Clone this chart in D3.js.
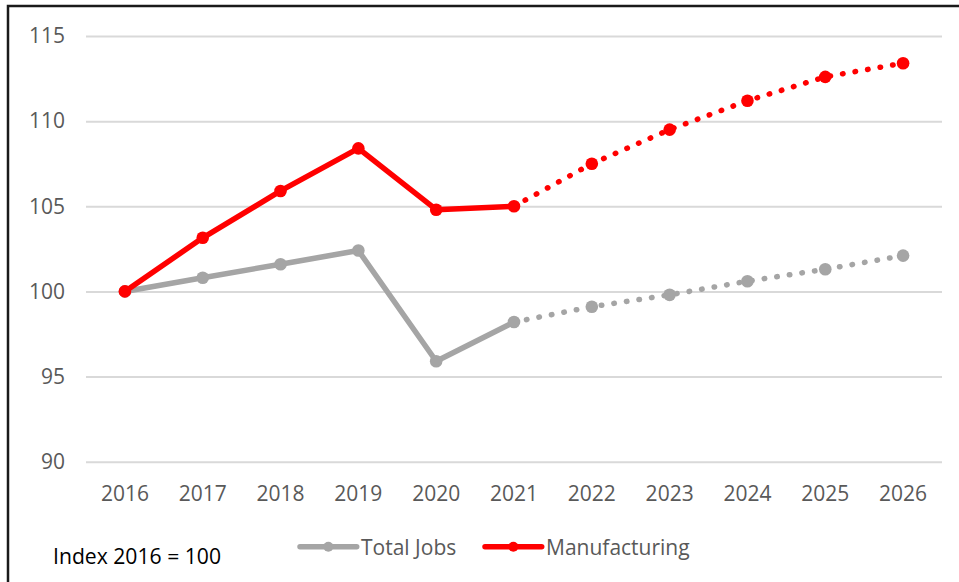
<!DOCTYPE html>
<html>
<head>
<meta charset="utf-8">
<script src="https://cdn.jsdelivr.net/npm/d3@7"></script>
<style>
  html, body { margin: 0; padding: 0; background: #fff; }
  svg { display: block; }
  .axis text { font-family: "Open Sans", sans-serif; fill: #595959; }
</style>
</head>
<body>
<svg id="chart" width="959" height="582"></svg>
<script>
// Employment index, 2016 = 100 (2022 onward are projections)
const years = ["2016","2017","2018","2019","2020","2021","2022","2023","2024","2025","2026"];
const totalJobs = [100, 100.8, 101.6, 102.4, 95.9, 98.2, 99.1, 99.8, 100.6, 101.3, 102.1];
const manufacturing = [100, 103.15, 105.9, 108.4, 104.8, 105.0, 107.5, 109.5, 111.2, 112.6, 113.4];
const yTicks = [90, 95, 100, 105, 110, 115];
const lastActualYear = "2021";
const seriesNames = ["Total Jobs", "Manufacturing"];
const seriesColors = ["#a5a5a5", "#ff0000"];
const noteText = "Index 2016 = 100";

const svg = d3.select("#chart");

// outer frame (left and top edges visible)
svg.append("rect")
  .attr("x", 8).attr("y", 6)
  .attr("width", 1000).attr("height", 700)
  .attr("fill", "none").attr("stroke", "#1a1a1a").attr("stroke-width", 2.5);

const plot = { left: 86, right: 942, top: 36, bottom: 461.7 };

const x = d3.scaleBand().domain(years).range([plot.left, plot.right]);
const y = d3.scaleLinear().domain([90, 115]).range([plot.bottom, plot.top]);
const cx = d => x(d) + x.bandwidth() / 2;

// horizontal gridlines + value labels
const yAxis = svg.append("g")
  .attr("class", "axis")
  .attr("transform", `translate(${plot.left},0)`)
  .call(d3.axisLeft(y).tickValues(yTicks).tickSize(-(plot.right - plot.left)).tickPadding(21));
yAxis.select(".domain").remove();
yAxis.selectAll("line").attr("stroke", "#d9d9d9").attr("stroke-width", 2);
yAxis.selectAll("text").attr("font-size", 21);

// year labels
const xAxis = svg.append("g")
  .attr("class", "axis")
  .attr("transform", `translate(0,${plot.bottom})`)
  .call(d3.axisBottom(x).tickSize(0).tickPadding(24));
xAxis.select(".domain").remove();
xAxis.selectAll("text").attr("font-size", 21);

const splitIdx = years.indexOf(lastActualYear);
const line = d3.line().x(d => cx(d.year)).y(d => y(d.value));

[totalJobs, manufacturing].forEach((vals, i) => {
  const pts = years.map((yr, j) => ({ year: yr, value: vals[j] }));
  const g = svg.append("g");
  // actual values: solid
  g.append("path")
    .datum(pts.slice(0, splitIdx + 1))
    .attr("d", line)
    .attr("fill", "none")
    .attr("stroke", seriesColors[i])
    .attr("stroke-width", 5.5)
    .attr("stroke-linejoin", "round")
    .attr("stroke-linecap", "round");
  // projections: round dots
  g.append("path")
    .datum(pts.slice(splitIdx))
    .attr("d", line)
    .attr("fill", "none")
    .attr("stroke", seriesColors[i])
    .attr("stroke-width", 5.5)
    .attr("stroke-linecap", "round")
    .attr("stroke-dasharray", "0.5 12.2")
    .attr("stroke-dashoffset", -12.7);
  g.selectAll("circle")
    .data(pts)
    .join("circle")
    .attr("cx", d => cx(d.year))
    .attr("cy", d => y(d.value))
    .attr("r", 6.3)
    .attr("fill", seriesColors[i]);
});

// legend
const legendItems = [
  { x0: 300, x1: 356.7, tx: 361 },
  { x0: 485, x1: 541.7, tx: 546 }
];
const legendY = 546.7;
legendItems.forEach((it, i) => {
  const lg = svg.append("g");
  lg.append("line")
    .attr("x1", it.x0).attr("x2", it.x1)
    .attr("y1", legendY).attr("y2", legendY)
    .attr("stroke", seriesColors[i]).attr("stroke-width", 5.5)
    .attr("stroke-linecap", "round");
  lg.append("circle")
    .attr("cx", (it.x0 + it.x1) / 2).attr("cy", legendY)
    .attr("r", 5).attr("fill", seriesColors[i]);
  lg.append("text")
    .attr("x", it.tx).attr("y", 555)
    .attr("font-family", "Open Sans, sans-serif")
    .attr("font-size", 21)
    .attr("fill", "#595959")
    .text(seriesNames[i]);
});

// index note
svg.append("text")
  .attr("x", 53).attr("y", 564)
  .attr("font-family", "Open Sans, sans-serif")
  .attr("font-size", 22.5)
  .attr("fill", "#000")
  .attr("textLength", 168)
  .attr("lengthAdjust", "spacingAndGlyphs")
  .text(noteText);
</script>
</body>
</html>
